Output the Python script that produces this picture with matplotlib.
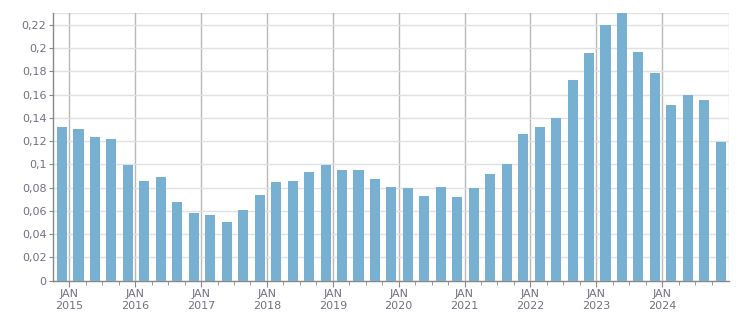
import matplotlib
matplotlib.use("Agg")
import matplotlib.pyplot as plt
import numpy as np

# quarterly values, 2015 Q1 .. 2025 Q1
values = [
    0.1322, 0.1305, 0.1236, 0.1219,
    0.0995, 0.0858, 0.0892, 0.0677,
    0.0582, 0.0565, 0.0505, 0.0608,
    0.0737, 0.0849, 0.0858, 0.0935,
    0.0995, 0.0952, 0.0952, 0.0875,
    0.0806, 0.0797, 0.0729, 0.0806,
    0.0720, 0.0797, 0.0918, 0.1004,
    0.1262, 0.1322, 0.1400, 0.1727,
    0.1959, 0.2200, 0.2300, 0.1968,
    0.1787, 0.1512, 0.1598, 0.1555,
    0.1193,
]
years = [2015, 2016, 2017, 2018, 2019, 2020, 2021, 2022, 2023, 2024]
yticks = [0, 0.02, 0.04, 0.06, 0.08, 0.1, 0.12, 0.14, 0.16, 0.18, 0.2, 0.22]

bar_color = "#78b0d2"
text_color = "#707080"

fig = plt.figure(figsize=(7.51, 3.13), dpi=100)
ax = fig.add_axes([0.071, 0.1032, 0.8993, 0.8543])

# x measured in quarters from JAN 2015; bars sit a bit before each quarter start
x = np.arange(len(values)) - 0.44
ax.bar(x, values, width=0.61, color=bar_color, zorder=3)

ax.set_xlim(-0.97, 40.04)
ax.set_ylim(0, 0.23)

major = [4 * (y - years[0]) for y in years]
ax.set_xticks(major)
ax.set_xticklabels(["JAN\n%d" % y for y in years])
ax.set_xticks(np.arange(0, 40), minor=True)
ax.set_yticks(yticks)
ax.set_yticklabels([("%g" % v).replace(".", ",") for v in yticks])

ax.grid(axis="x", which="major", color="#b8b8b8", linewidth=1.0, zorder=1)
ax.grid(axis="y", color="#e0e0e0", linewidth=1.0, zorder=1)
ax.axhline(0.23, color="#e0e0e0", linewidth=1.0, zorder=1)

for s in ["top", "right"]:
    ax.spines[s].set_visible(False)
ax.axvline(40.04, color="#e0e0e0", linewidth=1.0, zorder=1)
for s in ["left", "bottom"]:
    ax.spines[s].set_color("#888888")
    ax.spines[s].set_linewidth(1.0)

ax.tick_params(axis="both", which="both", colors="#888888", labelcolor=text_color,
               labelsize=8)
ax.tick_params(axis="x", which="major", length=4, pad=2)
ax.tick_params(axis="x", which="minor", length=3)
ax.tick_params(axis="y", length=3, pad=2)

fig.savefig("out.png", dpi=100)
